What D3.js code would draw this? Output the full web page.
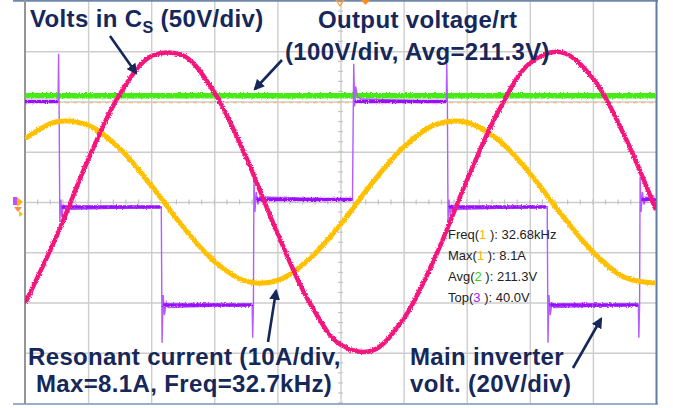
<!DOCTYPE html>
<html><head><meta charset="utf-8">
<script src="https://cdn.jsdelivr.net/npm/d3@7"></script>
<style>html,body{margin:0;padding:0;background:#fff;}svg{display:block;}</style>
</head><body>
<svg id="c" width="673" height="408"></svg>
<script>
// ---- data (time in µs, 5 µs/div) ----
const timeTicks = [0,5,10,15,20,25,30,35,40,45,50];
const divTicks = [-3,-2,-1,0,1,2,3];
const sampleTimes = [0,2.5,5,7.5,10,12.5,15,17.5,20,22.5,25,27.5,30,32.5,35,37.5,40,42.5,45,47.5,50];
// resonant current (A)
const currentVals = [6.29,7.98,7.63,5.32,1.65,-2.44,-5.90,-7.87,-7.81,-5.71,-2.24,1.88,5.45,7.70,7.94,6.19,2.85,-1.22,-4.96,-7.49,-8.07];
// voltage across Cs (V)
const csVals = [-101,-34,42,107,145,146,109,45,-31,-99,-142,-148,-116,-55,21,90,138,149,123,66,-8];
// output voltage (V)
const outTimes = [0,50];
const outVals = [211.3,211.3];
// main inverter voltage (V): flat levels [start, end, level]
const invLevels = [[0,2.62,40],[2.9,10.74,-2],[10.95,18.0,-41],[18.3,25.95,1],[26.15,33.38,40],[33.6,41.32,-2],[41.55,48.6,-41],[48.85,50,1]];
// main inverter voltage full trace incl. switching spikes (t, V)
const invTrace = [[0,40],[2.62,40],[2.66,59],[2.7,40],[2.76,-8],[2.84,1],[2.92,-6],[3.05,-1],[3.2,-3],[10.74,-2],[10.8,-2],[10.86,-56],[10.95,-37],[11.05,-45],[11.2,-40],[11.35,-42],[18.0,-41],[18.04,-54],[18.1,-41],[18.14,9],[18.22,-4],[18.32,4],[18.45,-1],[18.6,2],[25.95,1],[26.0,30],[26.05,55],[26.12,38],[26.2,46],[26.35,42],[26.6,41],[33.38,40],[33.42,55],[33.47,40],[33.52,-8],[33.6,1],[33.7,-6],[33.82,-1],[33.95,-3],[41.32,-2],[41.38,-2],[41.44,-56],[41.52,-37],[41.62,-45],[41.76,-40],[41.9,-42],[48.6,-41],[48.64,-54],[48.7,-41],[48.74,10],[48.82,-4],[48.92,4],[49.05,-1],[49.2,2],[50,1]];
// measurement readout
const measLabels = [["Freq(","1"," ): 32.68kHz","#ffb400"],["Max(","1"," ): 8.1A","#ffb400"],["Avg(","2"," ): 211.3V","#3ccf00"],["Top(","3"," ): 40.0V","#a020f0"]];

// ---- scales ----
const svg = d3.select("#c");
const L = 25, R = 656, T = 1, B = 403;
const x = d3.scaleLinear().domain([0,50]).range([L,R]);
const yDiv = d3.scaleLinear().domain([-4,4]).range([B,T]);
const yCur = d3.scaleLinear().domain([-20,20]).range([B,T]);
const yCs = d3.scaleLinear().domain([-200,200]).range([B,T]);
const yOut = d3.scaleLinear().domain([-400,400]).range([B,T]);
const yInv = d3.scaleLinear().domain([-80,80]).range([B,T]);

// noise filter
const defs = svg.append("defs");
const f = defs.append("filter").attr("id","noise").attr("filterUnits","userSpaceOnUse")
  .attr("x",0).attr("y",0).attr("width",673).attr("height",408);
f.append("feTurbulence").attr("type","fractalNoise").attr("baseFrequency","0.8").attr("numOctaves",1).attr("seed",3).attr("result","t");
f.append("feDisplacementMap").attr("in","SourceGraphic").attr("in2","t").attr("scale",3.5).attr("xChannelSelector","R").attr("yChannelSelector","G");
defs.append("marker").attr("id","ah").attr("viewBox","0 0 10 10").attr("refX",8).attr("refY",5)
  .attr("markerWidth",4.2).attr("markerHeight",4.2).attr("orient","auto")
  .append("path").attr("d","M0,0 L10,5 L0,10 Z").attr("fill","#16275a");

// ---- grid via axes ----
const gx = svg.append("g").attr("transform",`translate(0,${B})`)
  .call(d3.axisBottom(x).tickValues(timeTicks.slice(1,-1)).tickSize(-(B-T)).tickFormat(""));
const gy = svg.append("g").attr("transform",`translate(${L},0)`)
  .call(d3.axisLeft(yDiv).tickValues(divTicks).tickSize(-(R-L)).tickFormat(""));
[gx,gy].forEach(g=>{g.select(".domain").remove();g.selectAll("line").attr("stroke","#cdcdcd").attr("stroke-width",1.4);});

// minor ticks on centre axes
const minorT = d3.range(0,50.01,1);
svg.append("g").selectAll("line").data(minorT).join("line")
  .attr("x1",d=>x(d)).attr("x2",d=>x(d)).attr("y1",yDiv(0)-2.5).attr("y2",yDiv(0)+2.5)
  .attr("stroke","#c4c4c4").attr("stroke-width",1.2);
const minorV = d3.range(-4,4.01,0.2);
svg.append("g").selectAll("line").data(minorV).join("line")
  .attr("y1",d=>yDiv(d)).attr("y2",d=>yDiv(d)).attr("x1",x(25)-2.5).attr("x2",x(25)+2.5)
  .attr("stroke","#c4c4c4").attr("stroke-width",1.2);

// frame
svg.append("line").attr("x1",13).attr("x2",658).attr("y1",0.8).attr("y2",0.8).attr("stroke","#7088a8").attr("stroke-width",2);
svg.append("line").attr("x1",13).attr("x2",658).attr("y1",404).attr("y2",404).attr("stroke","#7a92b4").attr("stroke-width",1.6);
svg.append("line").attr("x1",656.5).attr("x2",656.5).attr("y1",0).attr("y2",404).attr("stroke","#5f7ca4").attr("stroke-width",2);
svg.append("line").attr("x1",L).attr("x2",L).attr("y1",0).attr("y2",404).attr("stroke","#959595").attr("stroke-width",2);

// trigger level dashed line
svg.append("line").attr("x1",L).attr("x2",R).attr("y1",yInv(39.5)).attr("y2",yInv(39.5))
  .attr("stroke","#ffb060").attr("stroke-width",1.2).attr("stroke-dasharray","4,4");

// markers
svg.append("path").attr("d","M336,0 L344,0 L340,6 Z").attr("fill","none").attr("stroke","#ff9a30").attr("stroke-width",1.2);
svg.append("path").attr("d","M361,0 L370,0 L365.5,5 Z").attr("fill","#ff8c1a");
svg.append("rect").attr("x",13).attr("y",197).attr("width",4).attr("height",8).attr("fill","#c050ff");
svg.append("path").attr("d","M17,197 L17,207 L23,202 Z").attr("fill","#ffb000");
svg.append("path").attr("d","M14,207 L22,207 L18,212 Z").attr("fill","#ff9040");
svg.append("path").attr("d","M19,211 L19,217 L23,214 Z").attr("fill","#ffc000");

// ---- traces ----
const clip = defs.append("clipPath").attr("id","pc");
clip.append("rect").attr("x",L).attr("y",0).attr("width",R-L).attr("height",404);
const traces = svg.append("g").attr("clip-path","url(#pc)");

const lineOut = d3.line().x((d,i)=>x(outTimes[i])).y(d=>yOut(d));
traces.append("path").attr("d",lineOut(outVals)).attr("fill","none")
  .attr("stroke","#46ea14").attr("stroke-width",5.5).attr("filter","url(#noise)");

const lineInv = d3.line().x(d=>x(d[0])).y(d=>yInv(d[1]));
traces.append("path").attr("d",lineInv(invTrace)).attr("fill","none")
  .attr("stroke","#b45cff").attr("stroke-width",1.4);
traces.append("g").selectAll("path").data(invLevels).join("path")
  .attr("d",d=>lineInv([[d[0],d[2]],[d[1],d[2]]])).attr("fill","none")
  .attr("stroke","#9a10ff").attr("stroke-width",3.6).attr("filter","url(#noise)");

const lineSmooth = sc => d3.line().x((d,i)=>x(sampleTimes[i])).y(d=>sc(d)).curve(d3.curveCatmullRom.alpha(0.5));
traces.append("path").attr("d",lineSmooth(yCur)(currentVals)).attr("fill","none")
  .attr("stroke","#ffc000").attr("stroke-width",5).attr("filter","url(#noise)");
traces.append("path").attr("d",lineSmooth(yCs)(csVals)).attr("fill","none")
  .attr("stroke","#f5157d").attr("stroke-width",4.5).attr("filter","url(#noise)");

// ---- measurement readout ----
const meas = svg.append("g").attr("font-family","'Liberation Sans', Arial, sans-serif").attr("font-size",13).attr("fill","#222");
measLabels.forEach((m,i)=>{
  const t = meas.append("text").attr("x",448).attr("y",239+i*21);
  t.append("tspan").text(m[0]);
  t.append("tspan").attr("fill",m[3]).text(m[1]);
  t.append("tspan").text(m[2]);
});

// ---- annotations ----
const ann = svg.append("g").attr("font-family","'Liberation Sans', Arial, sans-serif").attr("font-weight","bold").attr("font-size",24).attr("letter-spacing",0.35).attr("fill","#16275a");
const t1 = ann.append("text").attr("x",30).attr("y",27);
t1.append("tspan").text("Volts in C");
t1.append("tspan").attr("font-size",16).attr("dy",6).text("S");
t1.append("tspan").attr("dy",-6).text(" (50V/div)");
ann.append("text").attr("x",318).attr("y",28).text("Output voltage/rt");
ann.append("text").attr("x",285).attr("y",60).text("(100V/div, Avg=211.3V)");
ann.append("text").attr("x",28).attr("y",365).text("Resonant current (10A/div,");
ann.append("text").attr("x",36).attr("y",392).text("Max=8.1A, Freq=32.7kHz)");
ann.append("text").attr("x",410).attr("y",365).text("Main inverter");
ann.append("text").attr("x",410).attr("y",392).text("volt. (20V/div)");

const arrows = [[110,36,136,73],[282,60,255,89],[268,342,276,291],[573,368,601,319]];
svg.append("g").selectAll("line").data(arrows).join("line")
  .attr("x1",d=>d[0]).attr("y1",d=>d[1]).attr("x2",d=>d[2]).attr("y2",d=>d[3])
  .attr("stroke","#16275a").attr("stroke-width",2.6).attr("marker-end","url(#ah)");
</script>
</body></html>
